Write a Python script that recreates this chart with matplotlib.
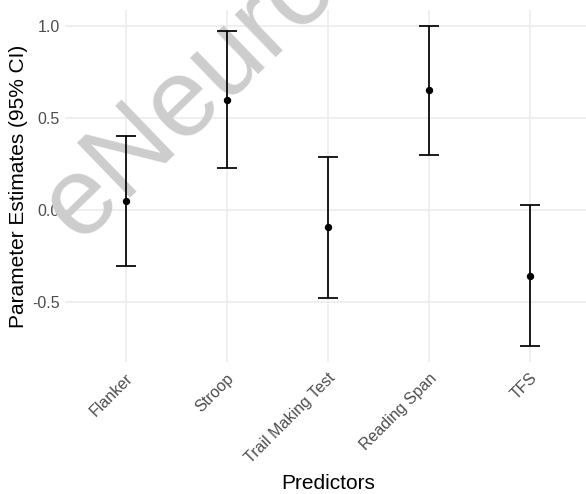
import matplotlib

matplotlib.use("Agg")
import matplotlib.pyplot as plt
import matplotlib.transforms as mtransforms

plt.rcParams["font.family"] = ["Liberation Sans", "DejaVu Sans"]

predictors = ["Flanker", "Stroop", "Trail Making Test", "Reading Span", "TFS"]
estimates = [0.046, 0.597, -0.095, 0.650, -0.361]
ci_lower = [-0.307, 0.226, -0.478, 0.298, -0.742]
ci_upper = [0.400, 0.972, 0.289, 1.000, 0.023]

fig = plt.figure(figsize=(5.86, 4.94), dpi=100)
ax = fig.add_axes([0.1116, 0.2672, 0.8969, 0.7126])

x = list(range(1, len(predictors) + 1))
yerr = [
    [e - lo for e, lo in zip(estimates, ci_lower)],
    [hi - e for e, hi in zip(estimates, ci_upper)],
]
ax.errorbar(
    x, estimates, yerr=yerr, fmt="o", color="black", ecolor="black",
    markersize=4.3, elinewidth=1.25, capsize=7.5, capthick=1.25, zorder=3,
)

# journal watermark: above the grid, under the error bars
ax.text(
    0.358, 0.763, "eNeuro", transform=fig.transFigure, fontsize=80,
    color="#cdcdcd", rotation=44, ha="center", va="baseline",
    rotation_mode="anchor", zorder=2, clip_on=False,
)

span = max(ci_upper) - min(ci_lower)
ax.set_ylim(min(ci_lower) - 0.05 * span, max(ci_upper) + 0.05 * span)
ax.set_xlim(0.4, len(predictors) + 0.6)
ax.set_yticks([-0.5, 0.0, 0.5, 1.0])
ax.set_yticklabels(["-0.5", "0.0", "0.5", "1.0"])
ax.set_xticks(x)
ax.set_xticklabels(predictors, rotation=45, ha="right", va="top")

ax.grid(True, color="#ebebeb", linewidth=1.1)
ax.set_axisbelow(True)
for side in ax.spines.values():
    side.set_visible(False)
ax.tick_params(length=0, labelsize=11.5, colors="#4d4d4d", pad=4)
ax.set_facecolor("none")

# nudge the slanted category labels (after tick_params, which resets transforms)
shift = mtransforms.ScaledTranslation(10 / 100, -3 / 100, fig.dpi_scale_trans)
for lbl in ax.get_xticklabels():
    lbl.set_transform(lbl.get_transform() + shift)

ax.set_xlabel("Predictors", fontsize=15)
ax.xaxis.set_label_coords(0.5, -0.317)
ax.set_ylabel("Parameter Estimates (95% CI)", fontsize=15, labelpad=3)

fig.savefig("out.png", dpi=100)
